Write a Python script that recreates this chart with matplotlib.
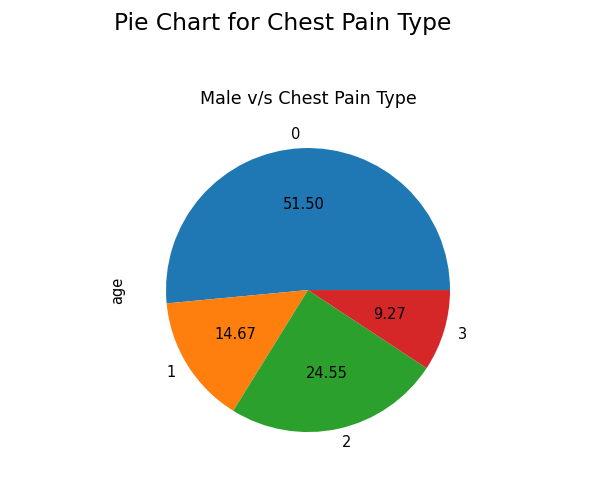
import matplotlib
matplotlib.use("Agg")
import matplotlib.pyplot as plt

plt.rcParams["font.size"] = 10.5

labels = ["0", "1", "2", "3"]
values = [51.503, 14.673, 24.553, 9.271]
colors = ["#1f77b4", "#ff7f0e", "#2ca02c", "#d62728"]

fig = plt.figure(figsize=(6.0, 4.82), dpi=100)
ax = fig.add_axes([0.2175, 0.030, 0.5917, 0.7365])
ax.pie(values, labels=labels, colors=colors, autopct="%.2f")
ax.set_aspect("equal")
ax.set_title("Male v/s Chest Pain Type")
ax.set_ylabel("age")
fig.suptitle("Pie Chart for Chest Pain Type", fontsize=16.8, x=0.471, y=0.975)
fig.savefig("out.png", dpi=100)
